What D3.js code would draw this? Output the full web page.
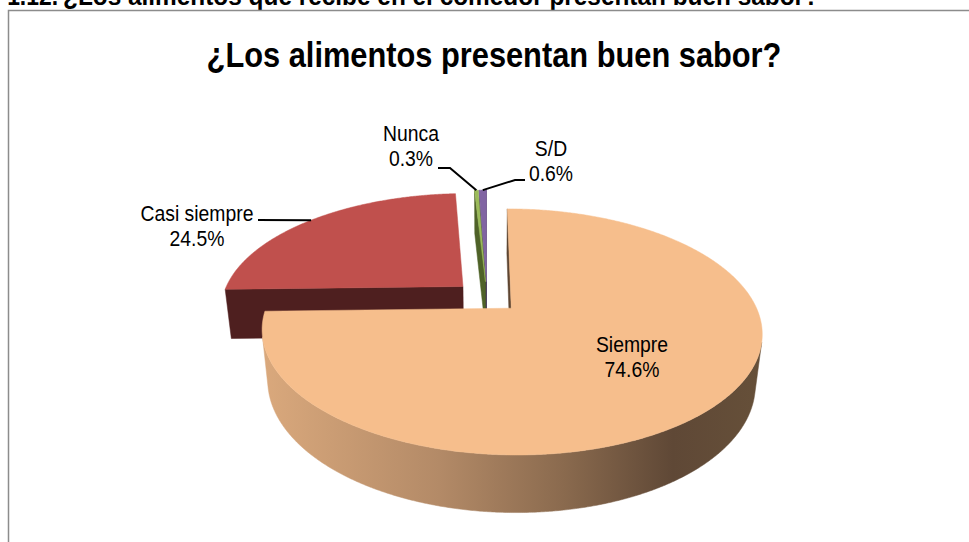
<!DOCTYPE html>
<html>
<head>
<meta charset="utf-8">
<script src="https://cdn.jsdelivr.net/npm/d3@7"></script>
<style>
  body { margin: 0; background: #fff; }
  text { font-family: "Liberation Sans", Arial, sans-serif; fill: #000; }
</style>
</head>
<body>
<div id="chart"></div>
<script>
// DATA
const categories = ["Siempre", "Casi siempre", "Nunca", "S/D"];
const values = [74.6, 24.5, 0.3, 0.6];
const valueLabels = ["74.6%", "24.5%", "0.3%", "0.6%"];
const title = "¿Los alimentos presentan buen sabor?";
const captionNum = "1.12.";
const caption = "¿Los alimentos que recibe en el comedor presentan buen sabor?";

let w = 969;
let h = 542;
let squeeze = 0.88; // the picture is a little narrow

let viz = d3.select("#chart").append("svg")
    .attr("width", w)
    .attr("height", h);

// gradient for the side of the big slice
let grad = viz.append("defs").append("linearGradient")
    .attr("id", "sideGrad")
    .attr("gradientUnits", "userSpaceOnUse")
    .attr("x1", 266).attr("x2", 762).attr("y1", 0).attr("y2", 0);
[[0, "#d9a87c"], [0.35, "#b38a67"], [0.6, "#8a6a4e"], [0.82, "#5f4836"], [1, "#665039"]]
  .forEach(s => grad.append("stop").attr("offset", s[0]).attr("stop-color", s[1]));

// caption cut at the top of the page
viz.append("g").attr("transform", "translate(58,5) scale(" + squeeze + ",1)")
  .append("text").attr("text-anchor", "end").attr("font-size", 26).attr("font-weight", "bold")
  .text(captionNum);
viz.append("g").attr("transform", "translate(63,5) scale(" + squeeze + ",1)")
  .append("text").attr("font-size", 26).attr("font-weight", "bold")
  .attr("textLength", 756 / squeeze).attr("lengthAdjust", "spacingAndGlyphs")
  .text(caption);

// frame
viz.append("rect")
  .attr("x", 8.5).attr("y", 10.5).attr("width", 1000).attr("height", 600)
  .attr("fill", "none").attr("stroke", "#8c8c8c").attr("stroke-width", 1.5);

// title
viz.append("g").attr("transform", "translate(494,67) scale(" + squeeze + ",1)")
  .append("text").attr("text-anchor", "middle").attr("font-size", 35).attr("font-weight", "bold")
  .text(title);

// 3D CAMERA
let cx = 487, cy = 297, k = 1120, dist = 4.65;
let tilt = 28.3 * Math.PI / 180;
let sn = Math.sin(tilt), cs = Math.cos(tilt);
let thick = 0.24, explode = 0.138;
let camY = -dist * cs;

function project(X, Y, Z) {
  let d = dist + Y * cs - Z * sn;
  return [cx + k * X / d, cy - k * (Y * sn + Z * cs) / d];
}
function facing(px, py, nx, ny) {
  return (-px) * nx + (camY - py) * ny > 0;
}

let topColor = d3.scaleOrdinal().domain(categories).range(["#f6be8c", "#c0504d", "#9bbb59", "#8064a2"]);
let outerColor = d3.scaleOrdinal().domain(categories).range(["url(#sideGrad)", "#4e1f1f", "#4f6228", "#3f3151"]);
let radialColor = d3.scaleOrdinal().domain(categories).range(["#5e4632", "#4e1f1f", "#4f6228", "#3f3151"]);

let pie = d3.pie().sort(null).value(d => d)(values);
let slices = pie.map((p, i) => {
  let mid = (p.startAngle + p.endAngle) / 2;
  return {
    name: categories[i], label: valueLabels[i],
    a0: p.startAngle, a1: p.endAngle, mid: mid,
    ox: explode * Math.sin(mid), oy: explode * Math.cos(mid)
  };
});

let line = d3.line();
function rim(s, t, z) { return project(s.ox + Math.sin(t), s.oy + Math.cos(t), z); }

// far slices first
let order = slices.slice().sort((a, b) => (b.oy + 0.6 * Math.cos(b.mid)) - (a.oy + 0.6 * Math.cos(a.mid)));

let pieG = viz.append("g");
order.forEach(s => {
  let g = pieG.append("g").attr("class", "slice");
  let n = Math.max(2, Math.ceil((s.a1 - s.a0) / (0.4 * Math.PI / 180)));
  let angles = d3.range(n + 1).map(j => s.a0 + (s.a1 - s.a0) * j / n);

  // radial walls
  let walls = [
    {t: s.a0, nx: -Math.cos(s.a0), ny: Math.sin(s.a0)},
    {t: s.a1, nx: Math.cos(s.a1), ny: -Math.sin(s.a1)}
  ];
  walls.forEach(wl => {
    let px = s.ox + 0.5 * Math.sin(wl.t), py = s.oy + 0.5 * Math.cos(wl.t);
    if (!facing(px, py, wl.nx, wl.ny)) return;
    let pts = [project(s.ox, s.oy, 0), rim(s, wl.t, 0), rim(s, wl.t, -thick), project(s.ox, s.oy, -thick)];
    g.append("path").attr("d", line(pts) + "Z")
      .attr("fill", radialColor(s.name)).attr("stroke", radialColor(s.name)).attr("stroke-width", 0.5);
  });

  // outer curved wall, only the part that faces us
  let runs = [], cur = [];
  angles.forEach(t => {
    let vis = facing(s.ox + Math.sin(t), s.oy + Math.cos(t), Math.sin(t), Math.cos(t));
    if (vis) cur.push(t);
    else if (cur.length) { runs.push(cur); cur = []; }
  });
  if (cur.length) runs.push(cur);
  runs.filter(r => r.length > 1).forEach(r => {
    let pts = r.map(t => rim(s, t, 0)).concat(r.slice().reverse().map(t => rim(s, t, -thick)));
    g.append("path").attr("d", line(pts) + "Z")
      .attr("fill", outerColor(s.name)).attr("stroke", outerColor(s.name)).attr("stroke-width", 0.5);
  });

  // top face
  let top = [project(s.ox, s.oy, 0)].concat(angles.map(t => rim(s, t, 0)));
  g.append("path").attr("d", line(top) + "Z")
    .attr("fill", topColor(s.name)).attr("stroke", topColor(s.name)).attr("stroke-width", 0.5);
});

// LABELS
let labelPos = {
  "Siempre": {x: 632, y: 352, lead: null},
  "Casi siempre": {x: 197, y: 221, lead: [[258, 220]]},
  "Nunca": {x: 411, y: 141, lead: [[438, 168], [450, 168]]},
  "S/D": {x: 551, y: 156, lead: [[525, 180], [515, 180]]}
};
let lineGap = 25.5;

slices.forEach(s => {
  let p = labelPos[s.name];
  if (p.lead) {
    let pts = p.lead.concat([rim(s, s.mid, 0)]);
    viz.append("path").attr("d", line(pts))
      .attr("fill", "none").attr("stroke", "#000").attr("stroke-width", 2);
  }
  let lg = viz.append("g").attr("transform", "translate(" + p.x + "," + p.y + ") scale(" + squeeze + ",1)");
  lg.append("text").attr("text-anchor", "middle").attr("font-size", 22).text(s.name);
  lg.append("text").attr("text-anchor", "middle").attr("font-size", 22).attr("y", lineGap).text(s.label);
});
</script>
</body>
</html>
